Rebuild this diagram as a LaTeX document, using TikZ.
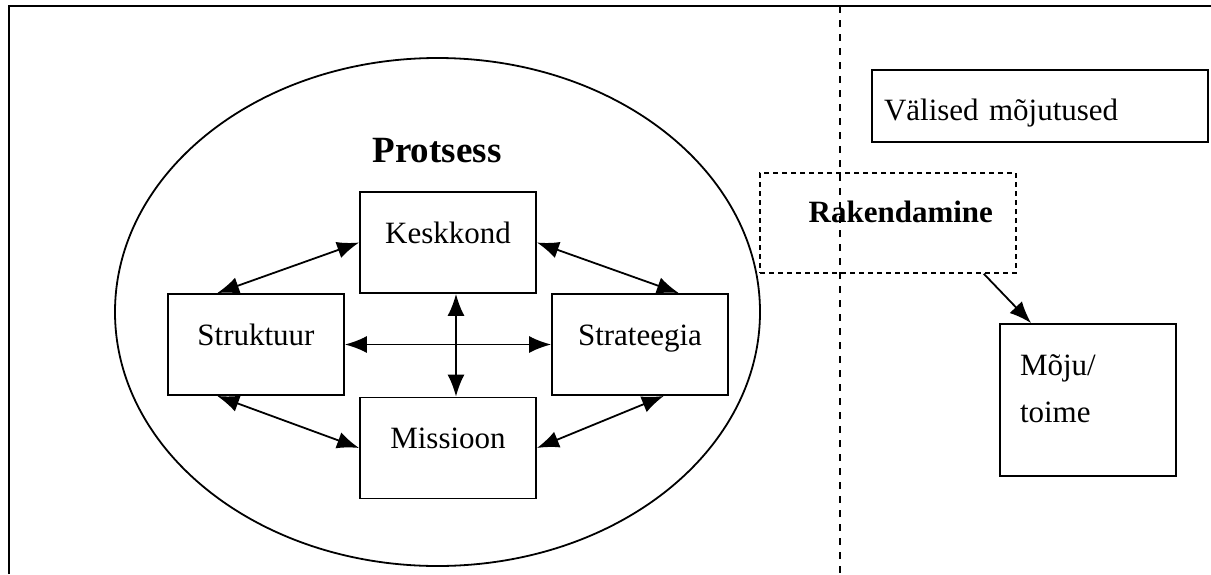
\documentclass[tikz,border=0pt]{standalone}
\usepackage{fontspec}
\setmainfont{Liberation Serif}
\usetikzlibrary{arrows.meta}
\tikzstyle{box} = [draw, line width=0.9pt, minimum width=88pt, minimum height=50.5pt, inner sep=0pt, text height=11pt, text depth=10.5pt]
\tikzstyle{dbox} = [draw, line width=0.8pt, dash pattern=on 2.5pt off 2pt, minimum width=128pt, minimum height=50pt, inner ysep=0pt, inner xsep=11.5pt, text width=105pt, align=right, text height=11pt, text depth=12pt]
\tikzstyle{line} = [draw, line width=0.9pt, {Latex[length=11pt,width=8.5pt]}-{Latex[length=11pt,width=8.5pt]}]
\tikzstyle{oneway} = [draw, line width=0.9pt, -{Latex[length=11pt,width=8.5pt]}]

\begin{document}
\begin{tikzpicture}[x=0.5pt,y=-0.5pt,font=\fontsize{15.5pt}{23.5pt}\selectfont]
\useasboundingbox (0,0) rectangle (1211,574);
% frame and divider
\draw[line width=1.3pt] (9,574) -- (9,6) -- (1211,6);
\draw[line width=0.7pt, dash pattern=on 3.5pt off 3.5pt] (840,6) -- (840,574);
% process
\draw[line width=0.9pt] (437.5,312) ellipse [x radius=161.25pt, y radius=127pt];
\node[font=\bfseries\fontsize{18.5pt}{22pt}\selectfont] (protsess) at (437,151) {Protsess};
\node[box] (kesk) at (448,242.5) {Keskkond};
\node[box] (struk) at (256,344.5) {Struktuur};
\node[box] (strat) at (640,344.5) {Strateegia};
\node[box] (miss) at (448,448) {Missioon};
% right side
\node[dbox, font=\bfseries\fontsize{15.5pt}{23.5pt}\selectfont] (rak) at (888,223) {Rakendamine};
\node[draw, line width=0.9pt, minimum width=168pt, minimum height=36pt, inner ysep=0pt, inner xsep=6pt, text width=156pt, align=left, text height=17pt, text depth=3pt] (val) at (1040,106) {Välised mõjutused};
\node[draw, line width=0.9pt, minimum width=88pt, minimum height=76pt, inner ysep=0pt, inner xsep=10pt, text width=68pt, align=left, text height=11pt, text depth=36pt] (moju) at (1088,400) {Mõju/\\toime};
% arrows
\draw[line] ([xshift=25pt]struk.north west) -- (kesk.west);
\draw[line] (kesk.east) -- ([xshift=-25pt]strat.north east);
\draw[line] (struk.east) -- (strat.west);
\draw[line] ([xshift=4pt]kesk.south) -- ([xshift=4pt]miss.north);
\draw[line] ([xshift=25pt]struk.south west) -- (miss.west);
\draw[line] (miss.east) -- ([xshift=-32.5pt]strat.south east);
\draw[oneway] ([xshift=-16.5pt]rak.south east) -- ([xshift=16pt]moju.north west);
\end{tikzpicture}
\end{document}
